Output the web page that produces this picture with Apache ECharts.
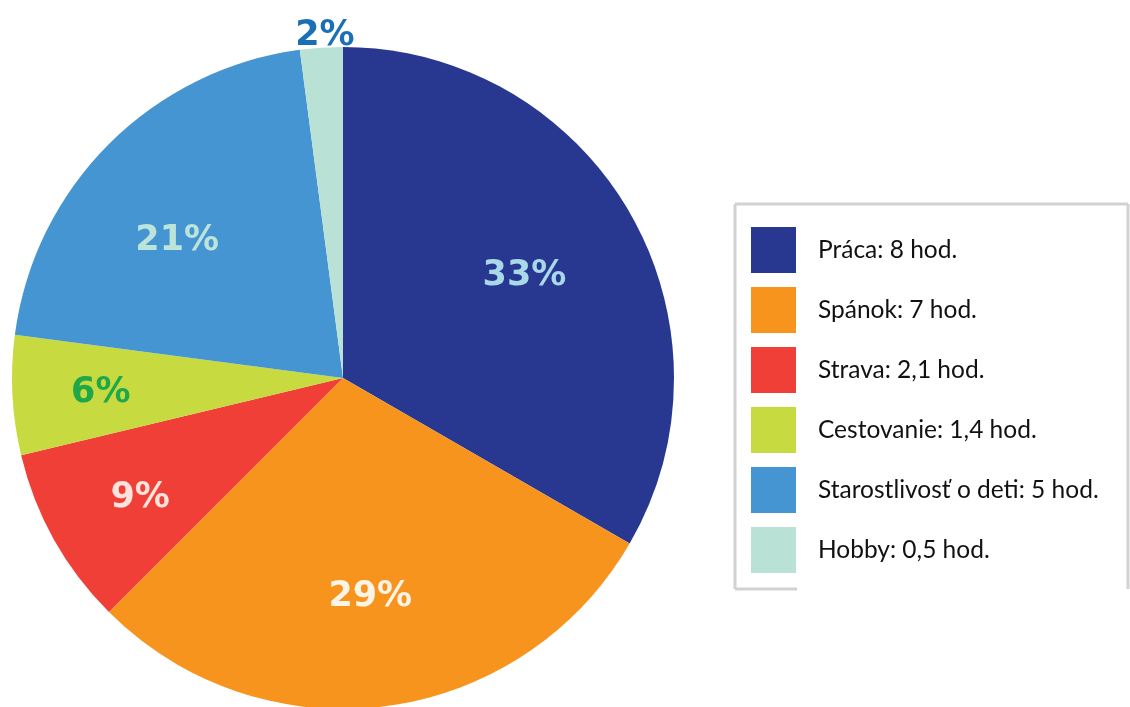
<!DOCTYPE html>
<html>
<head>
<meta charset="utf-8">
<script src="https://cdn.jsdelivr.net/npm/echarts@6/dist/echarts.min.js"></script>
<style>
  html, body { margin: 0; padding: 0; background: #ffffff; }
  #chart { width: 1130px; height: 707px; }
</style>
</head>
<body>
<div id="chart"></div>
<script>
// Daily hours by activity
const categories = ['Práca', 'Spánok', 'Strava', 'Cestovanie', 'Starostlivosť o deti', 'Hobby'];
const hours = [8, 7, 2.1, 1.4, 5, 0.5];
const sliceColors = ['#283891', '#f7941e', '#ef3f37', '#c7da40', '#4495d1', '#b9e1d6'];
const percentColors = ['#a9d9e9', '#fdf4e6', '#fde3dc', '#1fa84a', '#bce4db', '#1b6fb5'];
// hand nudges for the percentage labels, in pixels
const labelNudge = [[-13, 10], [-2, -4], [-7, 10], [-18, 3], [-7, 22], [5, 10]];

const CX = 343, CY = 378, R = 331;
const pieData = categories.map((name, i) => ({ name, value: hours[i] }));
const fmtHours = v => String(v).replace('.', ',');
const pctText = p => Math.round(p.percent) + '%';
const nudge = p => ({ dx: labelNudge[p.dataIndex][0], dy: labelNudge[p.dataIndex][1] });

const percentFont = { fontFamily: 'DejaVu Sans', fontWeight: 'bold', fontSize: 35 };

const chart = echarts.init(document.getElementById('chart'), null, { renderer: 'canvas' });
chart.setOption({
  backgroundColor: '#ffffff',
  animation: false,
  color: sliceColors,
  legend: {
    orient: 'vertical',
    left: 746,
    top: 222,
    icon: 'rect',
    itemWidth: 45,
    itemHeight: 46,
    itemGap: 14,
    selectedMode: false,
    data: categories,
    formatter: name => name + ': ' + fmtHours(hours[categories.indexOf(name)]) + ' hod.',
    textStyle: { fontFamily: 'Lato', fontSize: 24.5, color: '#111111', padding: [0, 0, 0, 17] }
  },
  graphic: [
    // legend frame
    { type: 'line', shape: { x1: 735, y1: 204, x2: 1128, y2: 204 }, style: { stroke: '#d2d2d2', lineWidth: 3 } },
    { type: 'line', shape: { x1: 735, y1: 204, x2: 735, y2: 589 }, style: { stroke: '#d2d2d2', lineWidth: 3 } },
    { type: 'line', shape: { x1: 1128, y1: 204, x2: 1128, y2: 589 }, style: { stroke: '#d2d2d2', lineWidth: 3 } },
    { type: 'line', shape: { x1: 735, y1: 589, x2: 797, y2: 589 }, style: { stroke: '#d2d2d2', lineWidth: 3 } }
  ],
  series: [
    {
      type: 'pie',
      center: [CX, CY],
      radius: [0, R],
      startAngle: 90,
      clockwise: true,
      silent: true,
      label: { show: false },
      labelLine: { show: false },
      itemStyle: { borderWidth: 0 },
      data: pieData
    },
    {
      // percentage labels inside the slices
      type: 'pie',
      center: [CX, CY],
      radius: [112, R],
      startAngle: 90,
      clockwise: true,
      silent: true,
      itemStyle: { color: 'rgba(0,0,0,0)' },
      labelLine: { show: false },
      label: Object.assign({ show: true, position: 'inside', formatter: pctText }, percentFont),
      labelLayout: nudge,
      data: pieData.map((d, i) => ({
        name: d.name,
        value: d.value,
        label: i === 5 ? { show: false } : { color: percentColors[i] }
      }))
    },
    {
      // small slice label sits just outside the rim
      type: 'pie',
      center: [CX, CY],
      radius: [R - 4, R + 42],
      startAngle: 90,
      clockwise: true,
      silent: true,
      itemStyle: { color: 'rgba(0,0,0,0)' },
      labelLine: { show: false },
      label: Object.assign({ show: true, position: 'inside', formatter: pctText }, percentFont),
      labelLayout: nudge,
      data: pieData.map((d, i) => ({
        name: d.name,
        value: d.value,
        label: i === 5 ? { color: percentColors[i] } : { show: false }
      }))
    }
  ]
});
</script>
</body>
</html>
